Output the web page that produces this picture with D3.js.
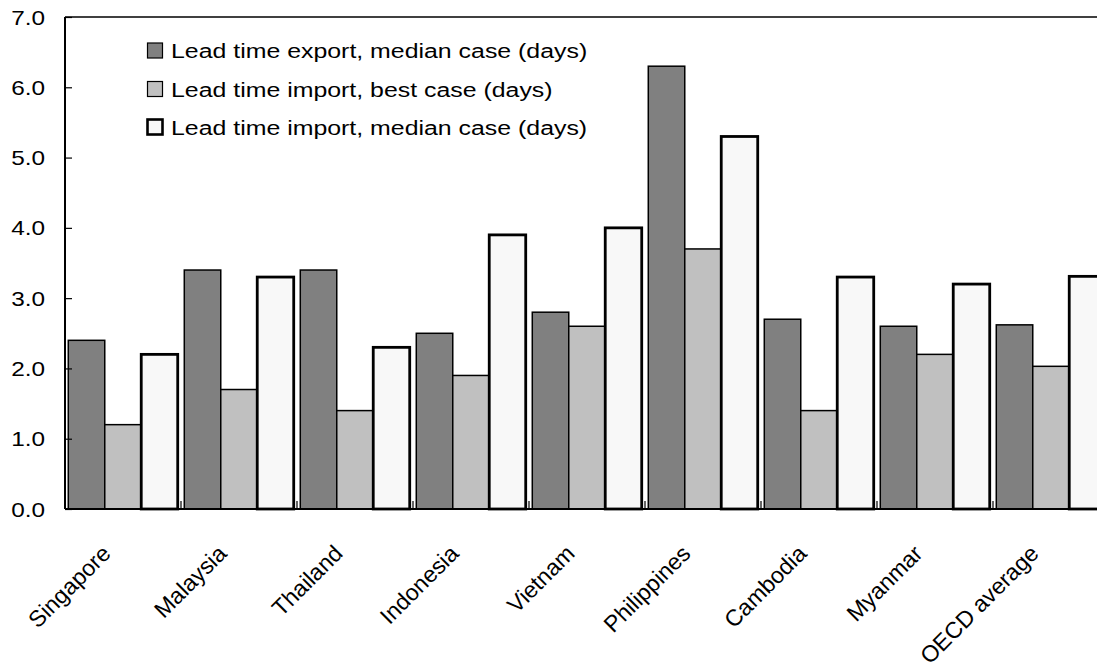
<!DOCTYPE html>
<html><head><meta charset="utf-8">
<script src="https://cdn.jsdelivr.net/npm/d3@7"></script>
<style>body{margin:0;background:#fff;overflow:hidden}svg{display:block}text{font-family:"Liberation Sans",Arial,sans-serif;fill:#000}</style>
</head><body><svg id="c" width="1097" height="670"></svg>
<script>
const categories = ["Singapore","Malaysia","Thailand","Indonesia","Vietnam","Philippines","Cambodia","Myanmar","OECD average"];
const seriesNames = ["Lead time export, median case (days)","Lead time import, best case (days)","Lead time import, median case (days)"];
const exportMedian = [2.4,3.4,3.4,2.5,2.8,6.3,2.7,2.6,2.62];
const importBest = [1.2,1.7,1.4,1.9,2.6,3.7,1.4,2.2,2.03];
const importMedian = [2.2,3.3,2.3,3.9,4.0,5.3,3.3,3.2,3.31];
const yTicks = [0,1,2,3,4,5,6,7];

const series = [exportMedian, importBest, importMedian];
const fills = ["#808080","#c0c0c0","#f8f8f8"];
const strokeW = [1.5,1.5,2.8];
const SX = 1.16, SXL = 1.185;

const svg = d3.select("#c");
const L = 65, T = 17, B = 509, R = 1109;
const x = d3.scaleBand().domain(categories).range([L, R]).paddingInner(0).paddingOuter(0);
const x1 = d3.scaleBand().domain([0,1,2]).range([0, x.bandwidth()]).paddingOuter(0.09).paddingInner(0);
const y = d3.scaleLinear().domain([0,7]).range([B, T]);

// bars
series.forEach((vals, si) => {
  svg.append("g").selectAll("rect").data(vals).join("rect")
    .attr("x", (d,i) => x(categories[i]) + x1(si))
    .attr("y", d => y(d))
    .attr("width", x1.bandwidth())
    .attr("height", d => y(0) - y(d))
    .attr("fill", fills[si]).attr("stroke", "#000").attr("stroke-width", strokeW[si]);
});

// top border
svg.append("line").attr("x1", L).attr("x2", 1097).attr("y1", T).attr("y2", T).attr("stroke","#000").attr("stroke-width",1.5);

// y axis
const yAxis = d3.axisRight(y).tickValues(yTicks).tickSize(7).tickFormat("");
const gy = svg.append("g").attr("transform", `translate(${L},0)`).call(yAxis);
gy.select(".domain").attr("stroke-width", 2).attr("d", `M0,${T}V${B}`);
gy.selectAll(".tick line").attr("stroke-width", 1.2);
svg.append("g").selectAll("text").data(yTicks).join("text")
  .attr("transform", d => `translate(45,${y(d)}) scale(${SX},1)`)
  .attr("dy", "0.36em").attr("text-anchor","end")
  .style("font-size","21px").text(d => d.toFixed(1));

// x axis
const bounds = categories.map(c => x(c)).slice(1);
const gx = svg.append("g");
gx.append("line").attr("x1", L).attr("x2", 1097).attr("y1", B).attr("y2", B).attr("stroke","#000").attr("stroke-width",2);
gx.selectAll("line.t").data(bounds).join("line").attr("class","t")
  .attr("x1", d => d).attr("x2", d => d).attr("y1", B).attr("y2", B - 8).attr("stroke","#000").attr("stroke-width",1.2);
gx.selectAll("text").data(categories).join("text")
  .attr("transform", c => `translate(${x(c) + x.bandwidth()/2 - 11},${B + 46}) rotate(-45)`)
  .attr("text-anchor","end")
  .style("font-size","23px").text(c => c);

// legend
const lg = svg.append("g");
const rowY = [50.5, 89, 127];
seriesNames.forEach((n, i) => {
  const yy = rowY[i];
  lg.append("rect").attr("x", 147.5).attr("y", yy - 7.5).attr("width", 15).attr("height", 15)
    .attr("fill", fills[i]).attr("stroke","#000").attr("stroke-width", i === 2 ? 2.6 : 1.2);
  lg.append("text").attr("transform", `translate(171,${yy}) scale(${SXL},1)`).attr("dy","0.36em")
    .style("font-size","21px").text(n);
});
</script></body></html>
